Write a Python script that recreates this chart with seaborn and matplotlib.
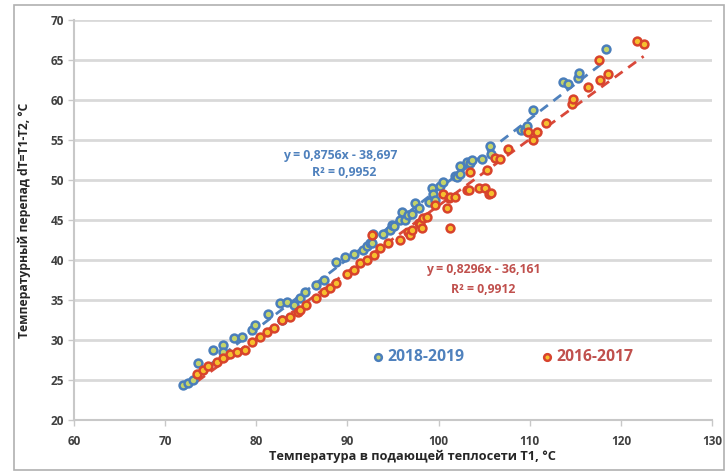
import matplotlib
matplotlib.use("Agg")
import matplotlib.pyplot as plt
import seaborn as sns
import pandas as pd
import numpy as np
from matplotlib.patches import Rectangle

# ---- data ----
x_1819 = [72.0, 72.55, 73.1, 73.65, 75.3, 76.4, 76.4, 77.5, 78.4, 79.5, 79.9, 81.3, 82.6, 82.8,
          83.35, 84.1, 84.8, 85.35, 86.6, 87.4, 88.8, 89.7, 90.7, 91.75, 92.1, 92.5, 92.7, 92.85,
          93.95, 94.7, 94.9, 95.1, 95.8, 96.0, 96.3, 96.7, 97.1, 97.4, 97.8, 99.0, 99.3, 99.4,
          99.6, 100.2, 100.5, 101.8, 102.0, 102.4, 102.4, 103.1, 103.4, 103.65, 104.8, 105.6,
          105.8, 109.0, 109.5, 109.7, 110.4, 113.6, 114.2, 115.3, 115.4, 118.4]
y_1819 = [24.4, 24.6, 25.0, 27.1, 28.75, 29.4, 28.5, 30.2, 30.4, 31.25, 31.9, 33.3, 34.6, 32.5,
          34.8, 34.4, 35.2, 36.0, 36.9, 37.5, 39.8, 40.4, 40.8, 41.25, 41.7, 42.1, 42.1, 43.3,
          43.3, 43.75, 44.4, 44.2, 45.0, 46.0, 45.0, 45.6, 45.8, 47.1, 46.5, 47.3, 49.0, 48.3,
          47.5, 49.2, 49.8, 50.5, 50.4, 51.7, 50.8, 52.3, 52.1, 52.5, 52.6, 54.3,
          53.3, 56.25, 56.2, 56.75, 58.75, 62.3, 62.0, 62.8, 63.4, 66.4]

x_1617 = [73.5, 74.2, 74.7, 75.7, 76.4, 77.1, 77.9, 78.8, 79.5, 80.4, 81.15, 81.9, 82.8, 83.7,
          84.6, 84.8, 85.5, 86.6, 87.4, 88.1, 88.8, 89.9, 90.7, 91.4, 92.1, 92.7, 92.9, 93.6,
          94.5, 95.8, 96.7, 96.9, 97.1, 97.8, 98.0, 98.2, 98.3, 98.7, 99.6, 100.5, 100.9, 101.1,
          101.2, 101.3, 101.8, 103.1, 103.3, 103.5, 104.4, 105.1, 105.3, 105.5, 105.7, 106.2,
          106.7, 107.6, 109.8, 110.4, 110.8, 111.8, 114.6, 114.7, 116.4, 117.7, 117.6, 118.6,
          121.8, 122.5]
y_1617 = [25.8, 26.25, 26.7, 27.3, 27.7, 28.3, 28.5, 28.75, 29.8, 30.4, 31.0, 31.5, 32.5, 32.9,
          33.5, 33.75, 34.4, 35.2, 36.0, 36.5, 37.1, 38.3, 38.75, 39.6, 40.0, 43.1, 40.6, 41.5,
          42.1, 42.5, 43.5, 43.1, 43.75, 44.6, 44.5, 44.0, 45.2, 45.4, 46.9, 48.3, 46.5, 47.7,
          44.0, 47.9, 47.9, 48.75, 48.75, 51.0, 49.0, 49.0, 51.25, 48.3, 48.4, 52.7,
          52.6, 53.9, 56.0, 55.0, 56.0, 57.1, 59.5, 60.1, 61.6, 62.5, 65.0, 63.3,
          67.4, 67.0]

series_names = ["2018-2019", "2016-2017"]
slopes = [0.8756, 0.8296]
intercepts = [-38.697, -36.161]
r2 = ["0,9952", "0,9912"]
eq_text = ["y = 0,8756x - 38,697", "y = 0,8296x - 36,161"]
x_ticks = [60, 70, 80, 90, 100, 110, 120, 130]
y_ticks = [20, 25, 30, 35, 40, 45, 50, 55, 60, 65, 70]

edge_colors = ["#4a7ebb", "#d8432c"]
face_colors = ["#c4d46a", "#f6c02e"]
line_colors = ["#4f81bd", "#d9483a"]
text_colors = ["#4f81bd", "#c0504d"]

df = pd.concat([
    pd.DataFrame({"x": x_1819, "y": y_1819, "s": series_names[0]}),
    pd.DataFrame({"x": x_1617, "y": y_1617, "s": series_names[1]}),
])

sns.set_theme(style="white")
plt.rcParams['font.family'] = ['Open Sans', 'DejaVu Sans']

fig = plt.figure(figsize=(7.26, 4.75), dpi=100)
ax = fig.add_axes([74/726, 1-420/475, (712-74)/726, (420-20)/475])

# figure border
fig.patches.append(Rectangle((14/726, 5/475), (724-14)/726, (470-5)/475, transform=fig.transFigure,
                             fill=False, edgecolor="#b0b0b0", linewidth=1.2))

# gridlines
for yv in y_ticks[1:]:
    ax.axhline(yv, color="#d9d9d9", linewidth=2, zorder=0)

# trend lines
for i, xs in enumerate([x_1819, x_1617]):
    xl = np.array([min(xs), max(xs)])
    yl = slopes[i] * xl + intercepts[i]
    sns.lineplot(x=xl, y=yl, ax=ax, color=line_colors[i],
                 linewidth=2, linestyle=(0, (3.5, 2.5)), legend=False, zorder=2)

# scatter
for i, name in enumerate(series_names):
    sub = df[df["s"] == name]
    sns.scatterplot(data=sub, x="x", y="y", ax=ax, s=32, color=face_colors[i],
                    edgecolor=edge_colors[i], linewidth=1.8, label=name, zorder=3 + i)

ax.set_xlim(60, 130)
ax.set_ylim(20, 70)
ax.set_xticks(x_ticks)
ax.set_yticks(y_ticks)
ax.tick_params(axis="both", labelsize=8.5, length=4, width=1, direction="out",
               left=True, bottom=True, pad=3, colors="#c8c8c8", labelcolor="#404040")
for lab in ax.get_xticklabels() + ax.get_yticklabels():
    lab.set_fontweight("bold")
ax.tick_params(axis="x", pad=7)
for sp in ["top", "right"]:
    ax.spines[sp].set_visible(False)
for sp in ["left", "bottom"]:
    ax.spines[sp].set_color("#c8c8c8")
    ax.spines[sp].set_linewidth(1.5)

ax.set_xlabel("Температура в подающей теплосети Т1, °С", fontsize=9.2, fontweight="bold",
              color="#262626")
ax.set_ylabel("Температурный перепад dT=T1-T2, °С", fontsize=8.7, fontweight="bold",
              color="#262626")
ax.xaxis.set_label_coords(0.53, -0.075)
ax.yaxis.set_label_coords(-0.068, 0.5)

# equations
ax.text(89.2, 53.1, eq_text[0], color=text_colors[0], fontsize=8.8, fontweight="bold",
        ha="center", va="center")
ax.text(89.6, 51.0, "R² = " + r2[0], color=text_colors[0], fontsize=8.8, fontweight="bold",
        ha="center", va="center")
ax.text(104.9, 38.75, eq_text[1], color=text_colors[1], fontsize=8.8, fontweight="bold",
        ha="center", va="center")
ax.text(104.9, 36.3, "R² = " + r2[1], color=text_colors[1], fontsize=8.8, fontweight="bold",
        ha="center", va="center")

leg = ax.legend(ncol=2, loc="center", bbox_to_anchor=(0.673, 0.158), frameon=False, fontsize=11.3,
                handlelength=0.6, handletextpad=0.3, columnspacing=5.0, markerscale=0.85)
for t, c in zip(leg.get_texts(), text_colors):
    t.set_color(c)
    t.set_fontweight("bold")

fig.savefig("out.png", dpi=100, facecolor="white")
